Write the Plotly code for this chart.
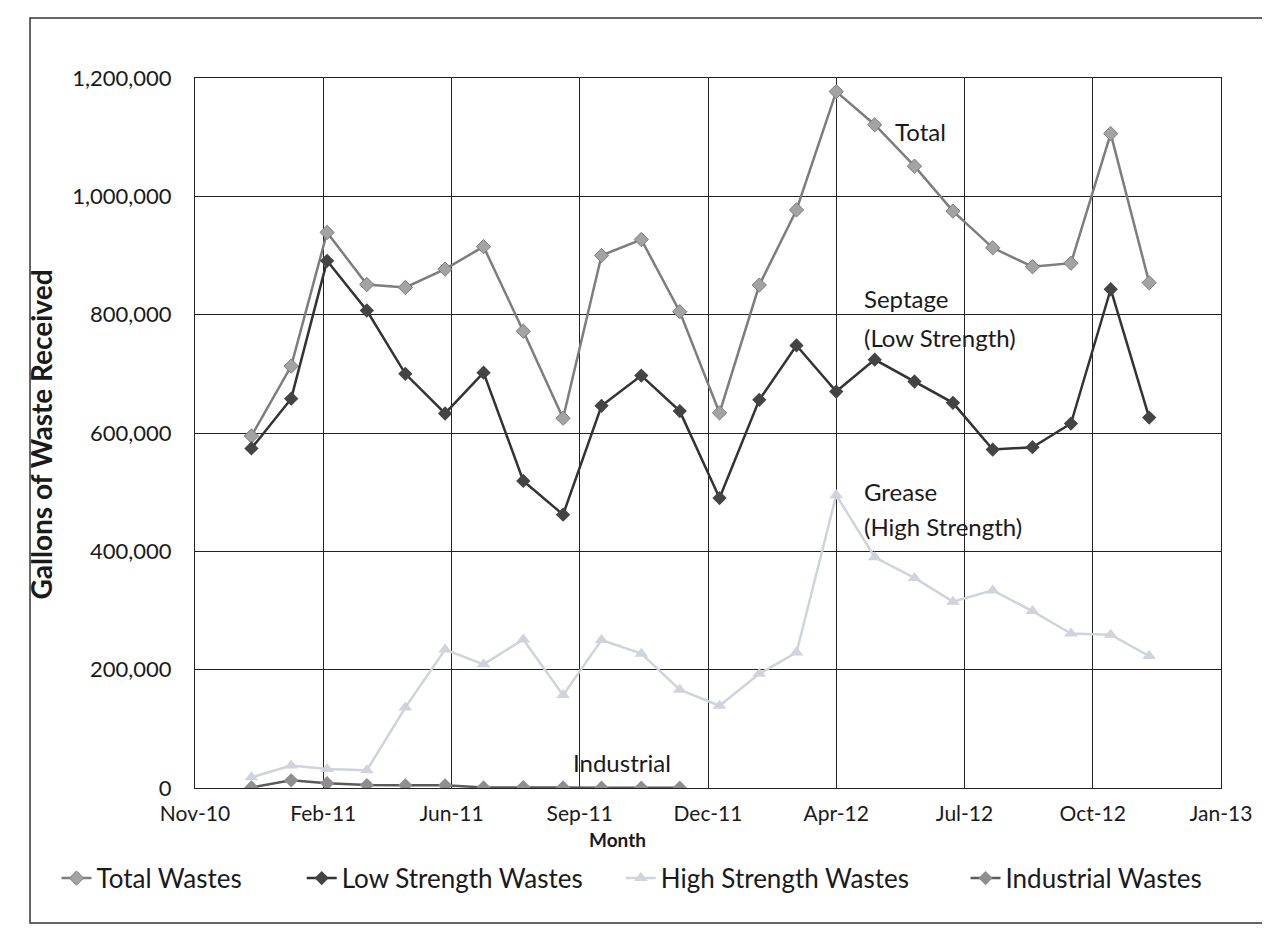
import plotly.graph_objects as go

months = ["2011-01-01", "2011-02-01", "2011-03-01", "2011-04-01", "2011-05-01", "2011-06-01",
          "2011-07-01", "2011-08-01", "2011-09-01", "2011-10-01", "2011-11-01", "2011-12-01",
          "2012-01-01", "2012-02-01", "2012-03-01", "2012-04-01", "2012-05-01", "2012-06-01",
          "2012-07-01", "2012-08-01", "2012-09-01", "2012-10-01", "2012-11-01", "2012-12-01"]

total_wastes = [595000, 713000, 939000, 851000, 846000, 877000, 915000, 772000, 625000, 900000,
                927000, 805000, 634000, 850000, 977000, 1177000, 1121000, 1051000, 975000, 913000,
                881000, 887000, 1106000, 854000]
low_strength = [574000, 658000, 891000, 807000, 700000, 633000, 702000, 519000, 462000, 646000,
                697000, 637000, 490000, 656000, 748000, 670000, 724000, 687000, 651000, 572000,
                576000, 616000, 843000, 626000]
high_strength = [18000, 38000, 32000, 30000, 136000, 234000, 209000, 251000, 157000, 250000,
                 227000, 166000, 139000, 193000, 229000, 495000, 390000, 355000, 315000, 334000,
                 299000, 261000, 259000, 223000]
industrial = [1000, 13000, 8000, 5000, 4500, 4500, 1000, 1500, 1000, 500, 500, 500]

y_ticks = [0, 200000, 400000, 600000, 800000, 1000000, 1200000]

FONT = "Lato, 'Open Sans', sans-serif"

fig = go.Figure()
fig.add_trace(go.Scatter(x=months, y=total_wastes, name="Total Wastes", mode="lines+markers",
                         line=dict(color="#7d7d7d", width=2.5),
                         marker=dict(symbol="diamond", size=11, color="#a3a3a3",
                                     line=dict(color="#7d7d7d", width=1)),
                         legend="legend"))
fig.add_trace(go.Scatter(x=months, y=low_strength, name="Low Strength Wastes", mode="lines+markers",
                         line=dict(color="#333333", width=2.5),
                         marker=dict(symbol="diamond", size=11, color="#444444"),
                         legend="legend2"))
fig.add_trace(go.Scatter(x=months, y=high_strength, name="High Strength Wastes", mode="lines+markers",
                         line=dict(color="#cfd3dc", width=2.5),
                         marker=dict(symbol="triangle-up", size=12, color="#cfd3dc"),
                         legend="legend3"))
fig.add_trace(go.Scatter(x=months[:len(industrial)], y=industrial, name="Industrial Wastes",
                         mode="lines+markers",
                         line=dict(color="#5a5a5a", width=2.5),
                         marker=dict(symbol="diamond", size=11, color="#8e8e8e"),
                         legend="legend4"))

ann_font = dict(family=FONT, size=24, color="#1a1a1a")
annotations = [
    dict(text="Total", x=0.680, y=0.925),
    dict(text="Septage", x=0.650, y=0.690),
    dict(text="(Low Strength)", x=0.650, y=0.634),
    dict(text="Grease", x=0.650, y=0.418),
    dict(text="(High Strength)", x=0.650, y=0.369),
    dict(text="Industrial", x=0.366, y=0.036),
]
for a in annotations:
    fig.add_annotation(text=a["text"], x=a["x"], y=a["y"], xref="paper", yref="paper",
                       xanchor="left", yanchor="middle", showarrow=False, font=ann_font)

fig.add_annotation(text="<b>Month</b>", x=0.412, y=-0.073, xref="paper", yref="paper",
                   xanchor="center", yanchor="middle", showarrow=False,
                   font=dict(family=FONT, size=19, color="#1a1a1a"))
fig.add_annotation(text="<b>Gallons of Waste Received</b>", x=-0.150, y=0.498, xref="paper",
                   yref="paper", xanchor="center", yanchor="middle", showarrow=False,
                   textangle=-90, font=dict(family=FONT, size=28, color="#1a1a1a"))

fig.add_shape(type="rect", xref="paper", yref="paper", x0=-0.1608, x1=1.0409, y0=-0.190, y1=1.0845,
              line=dict(color="#333333", width=1.5))

leg_common = dict(orientation="h", yanchor="middle", y=-0.127, xanchor="left",
                  bgcolor="rgba(0,0,0,0)", font=dict(family=FONT, size=26, color="#1a1a1a"),
                  itemwidth=30)
fig.update_layout(
    width=1270, height=936,
    margin=dict(l=187, r=57, t=70, b=156),
    paper_bgcolor="white", plot_bgcolor="white",
    showlegend=True,
    legend=dict(x=-0.135, **leg_common),
    legend2=dict(x=0.104, **leg_common),
    legend3=dict(x=0.415, **leg_common),
    legend4=dict(x=0.751, **leg_common),
    annotations=fig.layout.annotations,
)
fig.update_xaxes(type="date", range=["2010-11-18", "2013-01-26"], tick0="2010-11-18",
                 dtick=100 * 86400000, tickformat="%b-%y", showgrid=True, gridcolor="#222222",
                 gridwidth=1, showline=True, linecolor="#222222", linewidth=1, mirror=True,
                 ticks="", ticklabelstandoff=7,
                 tickfont=dict(family=FONT, size=21, color="#1a1a1a"))
fig.update_yaxes(range=[0, 1200000], tickvals=y_ticks, tickformat=",", showgrid=True,
                 gridcolor="#222222", gridwidth=1, showline=True, linecolor="#222222",
                 linewidth=1, mirror=True, zeroline=False, ticks="", ticklabelstandoff=18,
                 tickfont=dict(family=FONT, size=22, color="#1a1a1a"))

fig.write_html("out.html")
